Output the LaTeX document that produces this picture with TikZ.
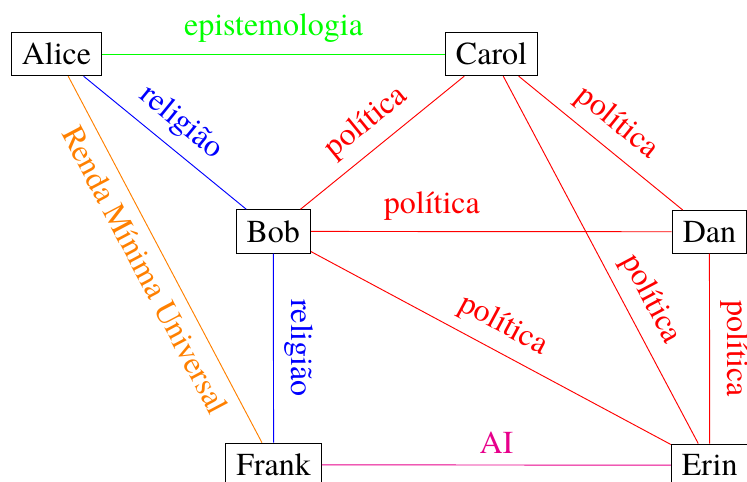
\documentclass[tikz,border=0pt]{standalone}
\usepackage{fontspec}
\setmainfont{texgyretermes}[Extension=.otf,UprightFont=*-regular]
\definecolor{aipink}{RGB}{231,0,139}
\tikzset{
  pessoa/.style={draw,fill=white,line width=0.7pt,inner sep=9.1pt,font=\fontsize{27.3}{33}\selectfont},
  tema/.style={inner sep=9.1pt,font=\fontsize{27.3}{33}\selectfont}
}
\begin{document}
\begin{tikzpicture}[x=0.03cm,y=-0.03cm,line width=0.8pt]
  \useasboundingbox (0,0) rectangle (747,482);
  \node[pessoa] (alice) at (56.5,54) {Alice};
  \node[pessoa] (carol) at (491.5,54) {Carol};
  \node[pessoa] (bob) at (273.3,231.4) {Bob};
  \node[pessoa] (dan) at (709.4,231.8) {Dan};
  \node[pessoa] (frank) at (273.6,464.8) {Frank};
  \node[pessoa] (erin) at (709.7,465.2) {Erin};
  % arestas
  \draw[green] (alice) -- node[tema,above] {epistemologia} (carol);
  \draw[blue] (alice) -- node[tema,above,sloped] {religião} (bob);
  \draw[orange] (alice) -- node[tema,below,sloped] {Renda Mínima Universal} (frank);
  \draw[red] (bob) -- node[tema,above,sloped] {política} (carol);
  \draw[red] (carol) -- node[tema,above,sloped] {política} (dan);
  \draw[red] (bob) -- node[tema,pos=0.335,above] {política} (dan);
  \draw[red] (bob) -- node[tema,above,sloped] {política} (erin);
  \draw[red] (carol) -- node[tema,pos=0.64,above,sloped] {política} (erin);
  \draw[red] (dan) -- node[tema,above,sloped] {política} (erin);
  \draw[blue] (bob) -- node[tema,above,sloped] {religião} (frank);
  \draw[aipink] (frank) -- node[tema,above] {AI} (erin);
\end{tikzpicture}
\end{document}
